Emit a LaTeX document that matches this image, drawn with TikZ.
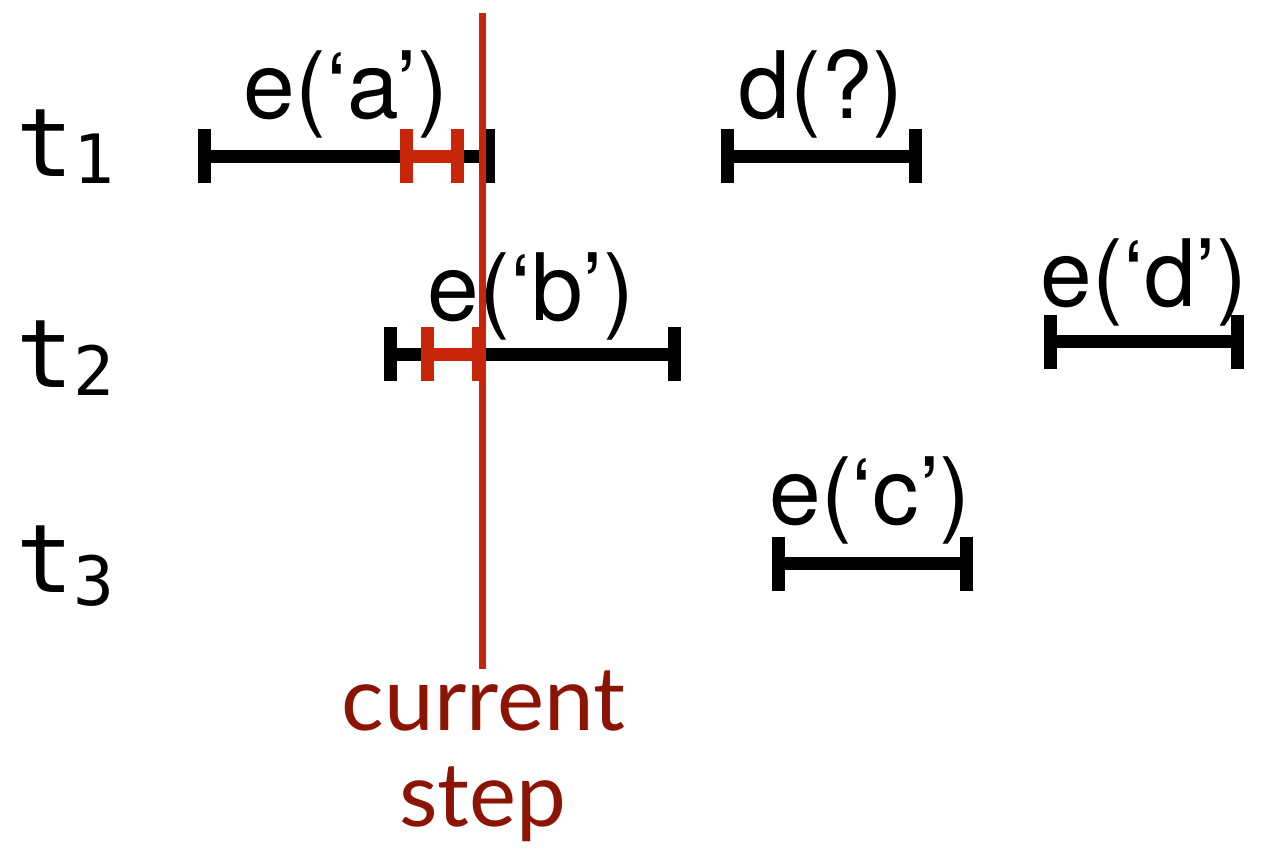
\documentclass[tikz,border=0pt]{standalone}
\usepackage{fontspec}
\setmainfont{TeX Gyre Heros}
\newfontfamily\monofont{DejaVu Sans Mono}
\newfontfamily\labfont{Lato}
\definecolor{stepred}{RGB}{200,38,10}
\definecolor{labred}{RGB}{140,20,5}
\tikzset{
  ivbar/.style={line width=13pt, line cap=butt},
  ivtext/.style={anchor=base, inner sep=0pt, font=\fontsize{93}{93}\selectfont},
  tlab/.style={anchor=base west, inner sep=0pt},
  steplab/.style={anchor=base, inner sep=0pt, text=labred, font=\fontsize{89}{95}\labfont},
}
\newcommand\ivdraw[5]{% style, name, x1, x2, y
  \coordinate (#2L) at (#3,#5);
  \coordinate (#2R) at (#4,#5);
  \draw[ivbar,#1] (#2L) -- (#2R);
  \draw[ivbar,#1] ([yshift=27pt]#2L) -- ([yshift=-27pt]#2L);
  \draw[ivbar,#1] ([yshift=27pt]#2R) -- ([yshift=-27pt]#2R);
}
\begin{document}
\begin{tikzpicture}[x=1pt,y=-1pt]
\useasboundingbox (0,0) rectangle (1276,855);
% row labels
\node[tlab] (t1) at (16,176) {\fontsize{95}{95}\monofont t\raisebox{-7pt}{\fontsize{68}{68}\selectfont 1}};
\node[tlab] (t2) at (16,387) {\fontsize{95}{95}\monofont t\raisebox{-8pt}{\fontsize{68}{68}\selectfont 2}};
\node[tlab] (t3) at (16,592) {\fontsize{95}{95}\monofont t\raisebox{-13pt}{\fontsize{68}{68}\selectfont 3}};
% interval labels
\node[ivtext] (ea) at (346,118) {e(‘a’)};
\node[ivtext] (dq) at (821,118) {d(?)};
\node[ivtext] (eb) at (531,320) {e(‘b’)};
\node[ivtext] (ed) at (1144,306) {e(‘d’)};
\node[ivtext] (ec) at (870,524) {e(‘c’)};
% black intervals
\ivdraw{black}{a}{204}{488.5}{156}
\ivdraw{black}{q}{727}{915}{156}
\ivdraw{black}{b}{390}{674}{354}
\ivdraw{black}{d}{1050}{1237.5}{341.5}
\ivdraw{black}{c}{778}{966}{563.5}
% red sub-intervals
\ivdraw{stepred}{ra}{406}{457.5}{156}
\ivdraw{stepred}{rb}{427.5}{478.5}{354}
% current step line
\coordinate (top) at (482.5,13);
\coordinate (bot) at (482.5,669);
\draw[stepred, line width=7pt] (top) -- (bot);
\node[steplab] (cur) at (483.5,730) {current};
\node[steplab] (stp) at (483,826) {step};
\end{tikzpicture}
\end{document}
